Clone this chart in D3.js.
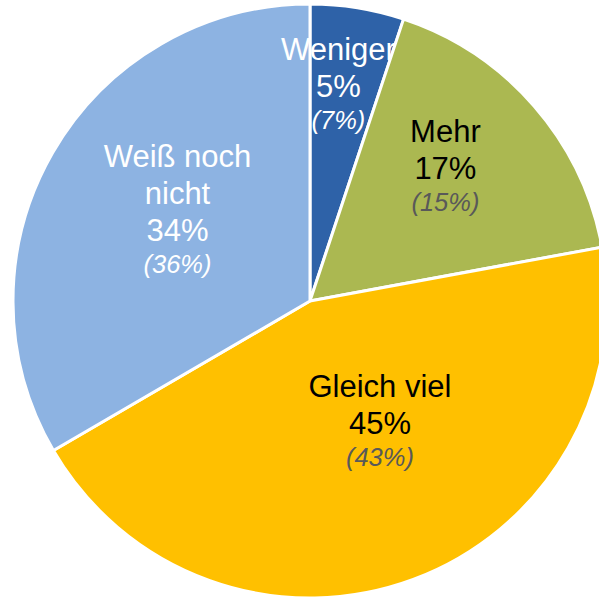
<!DOCTYPE html>
<html>
<head>
<meta charset="utf-8">
<script src="https://d3js.org/d3.v7.min.js"></script>
<style>
  html, body { margin: 0; padding: 0; background: #fff; }
  svg { display: block; }
</style>
</head>
<body>
<div id="chart"></div>
<script>
// slice data, clockwise from 12 o'clock
var categories = ["Weniger", "Mehr", "Gleich viel", "Weiß noch nicht"];
var shares = [5.1, 17.0, 44.5, 33.4];          // slice sizes
var pctLabels = ["5%", "17%", "45%", "34%"];
var prevLabels = ["(7%)", "(15%)", "(43%)", "(36%)"];
var colors = ["#2E62A8", "#ABB851", "#FFC000", "#8DB3E2"];
var labelLines = [["Weniger"], ["Mehr"], ["Gleich viel"], ["Weiß noch", "nicht"]];

var width = 599, height = 598;
var cx = 310, cy = 301, radius = 297;

var svg = d3.select("#chart").append("svg")
  .attr("width", width)
  .attr("height", height);

var g = svg.append("g")
  .attr("transform", "translate(" + cx + "," + cy + ")");

var pie = d3.pie().sort(null).value(function(d) { return d; });
var arcs = pie(shares);

var arc = d3.arc().innerRadius(0).outerRadius(radius);
var labelArc = d3.arc().innerRadius(radius * 0.6).outerRadius(radius * 0.6);

g.selectAll("path.slice")
  .data(arcs)
  .enter().append("path")
  .attr("class", "slice")
  .attr("d", arc)
  .attr("fill", function(d, i) { return colors[i]; })
  .attr("stroke", "#fff")
  .attr("stroke-width", 3)
  .attr("stroke-linejoin", "round");

// little nudges so labels sit where the original has them
var nudge = [[0, -65], [1, -42], [8, -71], [22, -45]];
var mainColor = ["#fff", "#000", "#000", "#fff"];
var prevColor = ["#fff", "#595959", "#595959", "#fff"];

arcs.forEach(function(a, i) {
  var c = labelArc.centroid(a);
  var x = c[0] + nudge[i][0], y = c[1] + nudge[i][1];
  var t = g.append("text")
    .attr("text-anchor", "middle")
    .style("font-family", "'Liberation Sans', Arial, sans-serif");
  var lines = labelLines[i].concat([pctLabels[i]]);
  lines.forEach(function(s, k) {
    t.append("tspan")
      .attr("x", x)
      .attr("y", y + k * 37)
      .style("font-size", "31px")
      .attr("fill", mainColor[i])
      .text(s);
  });
  t.append("tspan")
    .attr("x", x)
    .attr("y", y + (lines.length - 1) * 37 + 32)
    .style("font-size", "25.5px")
    .style("font-style", "italic")
    .attr("fill", prevColor[i])
    .text(prevLabels[i]);
});
</script>
</body>
</html>
